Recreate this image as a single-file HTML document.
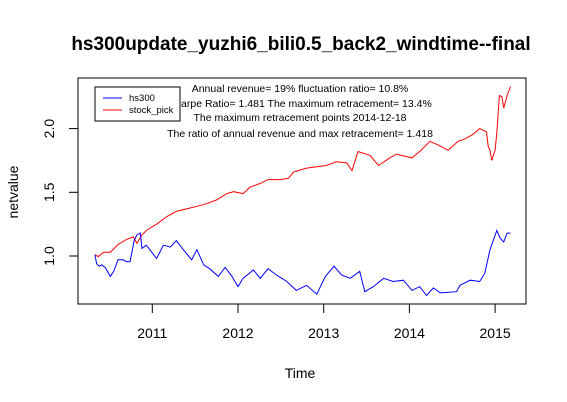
<!DOCTYPE html>
<html><head><meta charset="utf-8"><style>
body{margin:0;background:#fff;}
svg{display:block;font-family:"Liberation Sans",Arial,sans-serif;}
</style></head><body>
<svg id="chart" width="567" height="402" viewBox="0 0 567 402">
<text x="301" y="50" font-size="19" font-weight="bold" text-anchor="middle">hs300update_yuzhi6_bili0.5_back2_windtime--final</text>
<rect x="78" y="78" width="448" height="226" fill="none" stroke="#000" stroke-width="1"/>
<g id="axes"></g>
<g id="series"></g>
<text x="300" y="378" font-size="14" text-anchor="middle">Time</text>
<text transform="translate(18,192) rotate(-90)" font-size="14" text-anchor="middle">netvalue</text>
<g font-size="10.5" text-anchor="middle">
<text x="300" y="92">Annual revenue=  19% fluctuation ratio= 10.8%</text>
<text x="300" y="107">Sharpe Ratio= 1.481 The maximum retracement= 13.4%</text>
<text x="300" y="121">The maximum retracement points 2014-12-18</text>
<text x="300" y="137">The ratio of annual revenue and max retracement= 1.418</text>
</g>
<g>
<rect x="95" y="87" width="85" height="34" fill="#fff" stroke="#000"/>
<line x1="103" y1="98" x2="122" y2="98" stroke="#00f"/>
<text x="129" y="101" font-size="9.5">hs300</text>
<line x1="103" y1="110" x2="122" y2="110" stroke="#f00"/>
<text x="129" y="113" font-size="9.5">stock_pick</text>
</g>
</svg>
<script>
const xTicks=[2011,2012,2013,2014,2015];
const yTicks=[1.0,1.5,2.0];
const yTickLabels=["1.0","1.5","2.0"];
const hsTime=[2010.33,2010.35,2010.38,2010.41,2010.45,2010.51,2010.55,2010.60,2010.66,2010.70,2010.74,2010.79,2010.82,2010.86,2010.88,2010.93,2010.97,2011.05,2011.13,2011.21,2011.28,2011.36,2011.46,2011.52,2011.60,2011.67,2011.77,2011.85,2011.93,2012.00,2012.06,2012.18,2012.26,2012.35,2012.45,2012.57,2012.68,2012.80,2012.92,2013.02,2013.12,2013.21,2013.31,2013.42,2013.48,2013.58,2013.70,2013.81,2013.93,2014.03,2014.12,2014.20,2014.28,2014.36,2014.55,2014.59,2014.71,2014.82,2014.88,2014.94,2015.02,2015.06,2015.10,2015.14,2015.18];
const hsValue=[1.01,0.94,0.92,0.93,0.91,0.84,0.88,0.97,0.97,0.955,0.955,1.125,1.165,1.18,1.06,1.085,1.05,0.98,1.085,1.07,1.12,1.05,0.97,1.05,0.93,0.90,0.84,0.91,0.84,0.76,0.825,0.89,0.825,0.90,0.85,0.80,0.73,0.77,0.70,0.84,0.92,0.85,0.825,0.88,0.72,0.76,0.825,0.80,0.81,0.73,0.76,0.69,0.75,0.71,0.72,0.77,0.81,0.80,0.865,1.05,1.20,1.14,1.11,1.18,1.18];
const spTime=[2010.33,2010.37,2010.43,2010.51,2010.60,2010.70,2010.78,2010.82,2010.88,2010.93,2011.05,2011.17,2011.28,2011.40,2011.52,2011.63,2011.75,2011.87,2011.95,2012.06,2012.14,2012.26,2012.35,2012.49,2012.59,2012.65,2012.80,2012.92,2013.03,2013.15,2013.27,2013.33,2013.40,2013.54,2013.64,2013.77,2013.85,2014.03,2014.12,2014.24,2014.34,2014.45,2014.57,2014.65,2014.73,2014.82,2014.90,2014.92,2014.94,2014.96,2015.00,2015.02,2015.05,2015.08,2015.10,2015.14,2015.18];
const spValue=[1.01,0.995,1.03,1.03,1.09,1.13,1.15,1.10,1.165,1.20,1.25,1.31,1.35,1.37,1.39,1.41,1.44,1.49,1.505,1.49,1.54,1.57,1.60,1.60,1.61,1.66,1.69,1.70,1.71,1.74,1.73,1.67,1.82,1.79,1.71,1.77,1.80,1.77,1.82,1.90,1.87,1.83,1.90,1.92,1.95,2.00,1.975,1.86,1.83,1.75,1.83,1.965,2.26,2.25,2.16,2.26,2.33];
const NS='http://www.w3.org/2000/svg';
function xs(t){return 152.3+(t-2011)*85.7;}
function ys(v){return 256-(v-1)*127.4;}
const axes=document.getElementById('axes');
xTicks.forEach(function(t){
 const l=document.createElementNS(NS,'line');
 l.setAttribute('x1',xs(t));l.setAttribute('x2',xs(t));l.setAttribute('y1',304);l.setAttribute('y2',313);l.setAttribute('stroke','#000');
 
 
 axes.appendChild(l);
 const tx=document.createElementNS(NS,'text');
 tx.setAttribute('x',xs(t));tx.setAttribute('y',338);tx.setAttribute('font-size','14');tx.setAttribute('text-anchor','middle');
 tx.textContent=String(t);
 
 
 axes.appendChild(tx);
});
const al=document.createElementNS(NS,'line');
al.setAttribute('x1',xs(2011));al.setAttribute('x2',xs(2015));al.setAttribute('y1',304);al.setAttribute('y2',304);al.setAttribute('stroke','#000');


axes.appendChild(al);
yTicks.forEach(function(v,i){
 const l=document.createElementNS(NS,'line');
 l.setAttribute('x1',69);l.setAttribute('x2',78);l.setAttribute('y1',ys(v));l.setAttribute('y2',ys(v));l.setAttribute('stroke','#000');
 
 
 axes.appendChild(l);
 const tx=document.createElementNS(NS,'text');
 tx.setAttribute('transform','translate(54,'+ys(v)+') rotate(-90)');tx.setAttribute('font-size','14');tx.setAttribute('text-anchor','middle');
 tx.textContent=yTickLabels[i];
 
 
 axes.appendChild(tx);
});
const series=document.getElementById('series');
function draw(ts,vs,color,name){
 const p=document.createElementNS(NS,'polyline');
 p.setAttribute('points',ts.map(function(t,i){return xs(t).toFixed(1)+','+ys(vs[i]).toFixed(1);}).join(' '));
 p.setAttribute('fill','none');p.setAttribute('stroke',color);p.setAttribute('stroke-width','1');
 
 
 series.appendChild(p);
}
draw(spTime,spValue,'#f00','stock-pick-line');
draw(hsTime,hsValue,'#00f','hs300-line');
</script>
</body></html>
